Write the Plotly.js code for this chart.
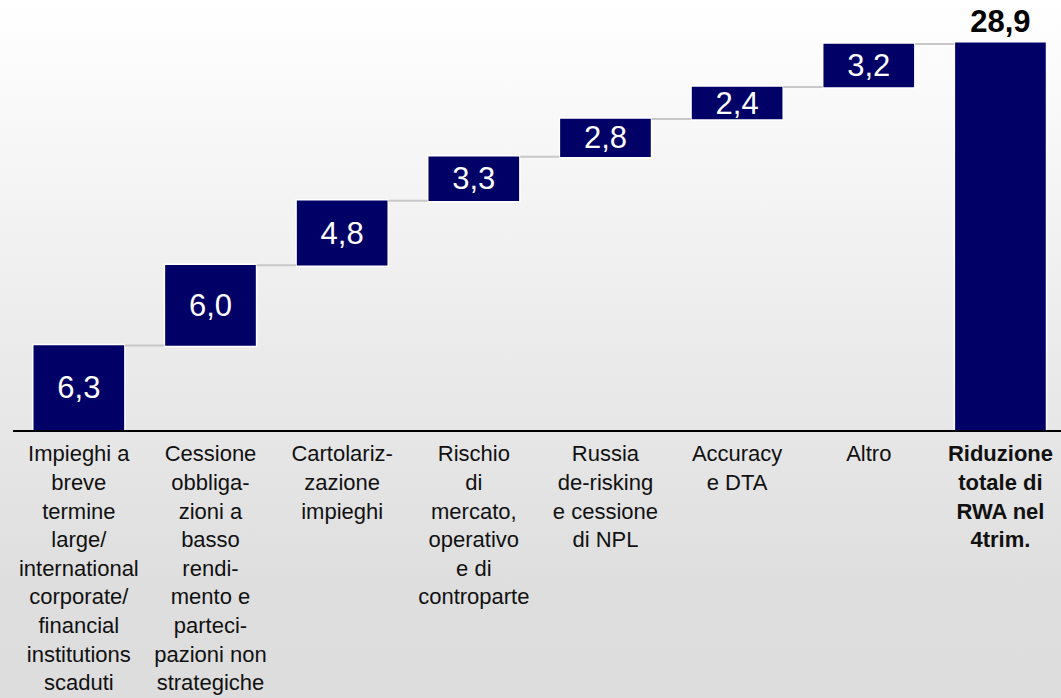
<!DOCTYPE html>
<html>
<head>
<meta charset="utf-8">
<script src="https://cdn.plot.ly/plotly-3.0.1.min.js"></script>
<style>
  html, body { margin: 0; padding: 0; }
  body { width: 1061px; height: 698px; overflow: hidden;
         background: linear-gradient(to bottom, #ffffff 0%, #e9e9e9 55%, #dedede 85%, #dddddd 100%); }
  #chart { width: 1061px; height: 698px; }
</style>
</head>
<body>
<div id="chart"></div>
<script>
const categories = [
  "Impieghi a<br>breve<br>termine<br>large/<br>international<br>corporate/<br>financial<br>institutions<br>scaduti",
  "Cessione<br>obbliga-<br>zioni a<br>basso<br>rendi-<br>mento e<br>parteci-<br>pazioni non<br>strategiche",
  "Cartolariz-<br>zazione<br>impieghi",
  "Rischio<br>di<br>mercato,<br>operativo<br>e di<br>controparte",
  "Russia<br>de-risking<br>e cessione<br>di NPL",
  "Accuracy<br>e DTA",
  "Altro",
  "<b>Riduzione<br>totale di<br>RWA nel<br>4trim.</b>"
];
const values = [6.3, 6.0, 4.8, 3.3, 2.8, 2.4, 3.2, 28.9];
const measures = ["relative","relative","relative","relative","relative","relative","relative","absolute"];
const valueLabels = ["6,3", "6,0", "4,8", "3,3", "2,8", "2,4", "3,2", "<b>28,9</b>"];
const textPositions = ["inside","inside","inside","inside","inside","inside","inside","outside"];

const navy = "#000066";

const trace = {
  type: "waterfall",
  x: categories,
  y: values,
  measure: measures,
  text: valueLabels,
  textposition: textPositions,
  texttemplate: "%{text}",
  constraintext: "none",
  insidetextanchor: "middle",
  insidetextfont: { family: "Liberation Sans, Arial, sans-serif", size: 31, color: "#ffffff" },
  outsidetextfont: { family: "Liberation Sans, Arial, sans-serif", size: 31, color: "#000000" },
  cliponaxis: false,
  width: 0.7,
  increasing: { marker: { color: navy, line: { color: "#ffffff", width: 1.5 } } },
  decreasing: { marker: { color: navy, line: { color: "#ffffff", width: 1.5 } } },
  totals: { marker: { color: navy, line: { color: "#ffffff", width: 1.5 } } },
  connector: { mode: "between", line: { color: "#c8c8c8", width: 2 } },
  hoverinfo: "skip"
};

const layout = {
  width: 1061,
  height: 698,
  margin: { l: 13, r: 0, t: 0, b: 268, pad: 0 },
  paper_bgcolor: "rgba(0,0,0,0)",
  plot_bgcolor: "rgba(0,0,0,0)",
  showlegend: false,
  font: { family: "Liberation Sans, Arial, sans-serif", color: "#000000" },
  xaxis: {
    type: "category",
    range: [-0.5, 7.46],
    showline: true,
    linecolor: "#000000",
    linewidth: 2,
    showgrid: false,
    zeroline: false,
    ticks: "",
    tickangle: 0,
    ticklabelstandoff: 3,
    tickfont: { family: "Liberation Sans, Arial, sans-serif", size: 22, color: "#111111" },
    automargin: false
  },
  yaxis: {
    range: [0, 32.09],
    visible: false,
    showgrid: false,
    zeroline: false
  }
};

Plotly.newPlot("chart", [trace], layout, { displayModeBar: false, staticPlot: true });
</script>
</body>
</html>
